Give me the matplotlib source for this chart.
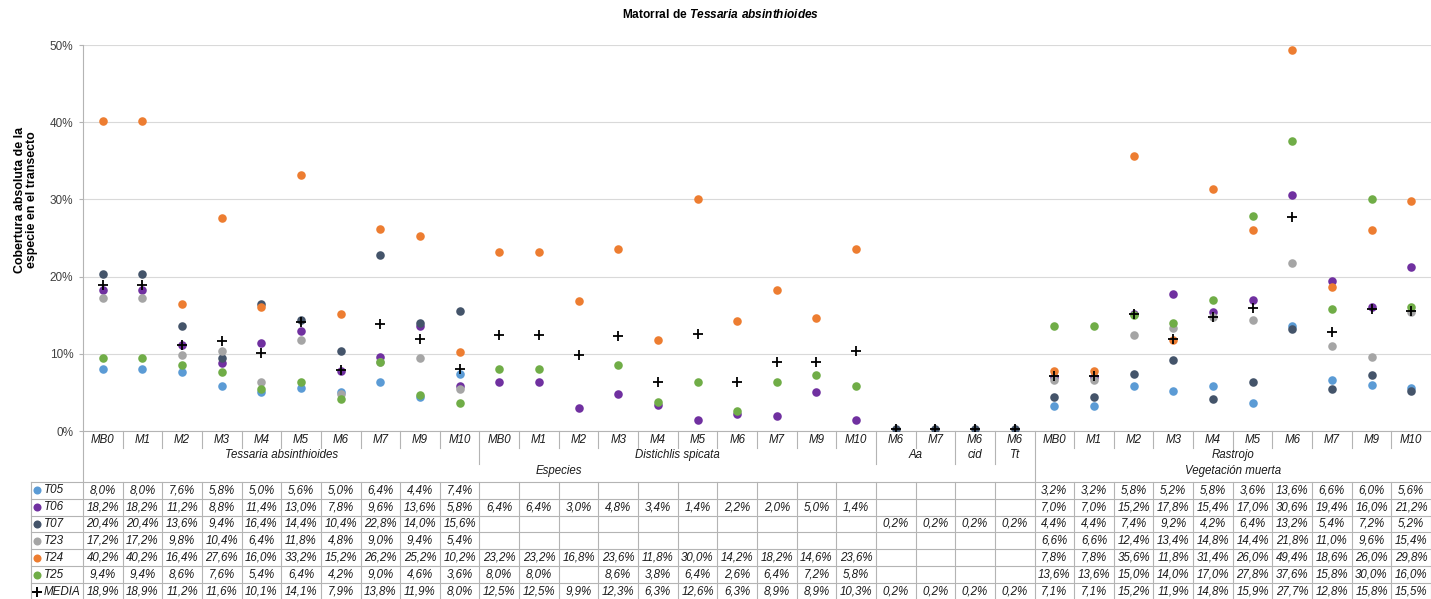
import matplotlib
matplotlib.use("Agg")
import matplotlib.pyplot as plt
from matplotlib.ticker import PercentFormatter
from matplotlib.transforms import blended_transform_factory

plt.rcParams["font.family"] = ["Liberation Sans", "DejaVu Sans"]
plt.rcParams["mathtext.fontset"] = "custom"
plt.rcParams["mathtext.rm"] = "Liberation Sans:bold"
plt.rcParams["mathtext.bf"] = "Liberation Sans:bold"
plt.rcParams["mathtext.it"] = "Liberation Sans:bold:italic"

# ---- datos (% de cobertura) ----
CATEGORIAS = ["MB0", "M1", "M2", "M3", "M4", "M5", "M6", "M7", "M9", "M10",
              "MB0", "M1", "M2", "M3", "M4", "M5", "M6", "M7", "M9", "M10",
              "M6", "M7", "M6", "M6",
              "MB0", "M1", "M2", "M3", "M4", "M5", "M6", "M7", "M9", "M10"]
GRUPOS = ["Tessaria absinthioides", "Distichlis spicata", "Aa", "cid", "Tt", "Rastrojo"]
N_GRUPO = [10, 10, 2, 1, 1, 10]
TIPOS = ["Especies", "Vegetación muerta"]
N_TIPO = [24, 10]

_ = None
T05 = [8.0, 8.0, 7.6, 5.8, 5.0, 5.6, 5.0, 6.4, 4.4, 7.4,
       _, _, _, _, _, _, _, _, _, _,
       _, _, _, _,
       3.2, 3.2, 5.8, 5.2, 5.8, 3.6, 13.6, 6.6, 6.0, 5.6]
T06 = [18.2, 18.2, 11.2, 8.8, 11.4, 13.0, 7.8, 9.6, 13.6, 5.8,
       6.4, 6.4, 3.0, 4.8, 3.4, 1.4, 2.2, 2.0, 5.0, 1.4,
       _, _, _, _,
       7.0, 7.0, 15.2, 17.8, 15.4, 17.0, 30.6, 19.4, 16.0, 21.2]
T07 = [20.4, 20.4, 13.6, 9.4, 16.4, 14.4, 10.4, 22.8, 14.0, 15.6,
       _, _, _, _, _, _, _, _, _, _,
       0.2, 0.2, 0.2, 0.2,
       4.4, 4.4, 7.4, 9.2, 4.2, 6.4, 13.2, 5.4, 7.2, 5.2]
T23 = [17.2, 17.2, 9.8, 10.4, 6.4, 11.8, 4.8, 9.0, 9.4, 5.4,
       _, _, _, _, _, _, _, _, _, _,
       _, _, _, _,
       6.6, 6.6, 12.4, 13.4, 14.8, 14.4, 21.8, 11.0, 9.6, 15.4]
T24 = [40.2, 40.2, 16.4, 27.6, 16.0, 33.2, 15.2, 26.2, 25.2, 10.2,
       23.2, 23.2, 16.8, 23.6, 11.8, 30.0, 14.2, 18.2, 14.6, 23.6,
       _, _, _, _,
       7.8, 7.8, 35.6, 11.8, 31.4, 26.0, 49.4, 18.6, 26.0, 29.8]
T25 = [9.4, 9.4, 8.6, 7.6, 5.4, 6.4, 4.2, 9.0, 4.6, 3.6,
       8.0, 8.0, _, 8.6, 3.8, 6.4, 2.6, 6.4, 7.2, 5.8,
       _, _, _, _,
       13.6, 13.6, 15.0, 14.0, 17.0, 27.8, 37.6, 15.8, 30.0, 16.0]
MEDIA = [18.9, 18.9, 11.2, 11.6, 10.1, 14.1, 7.9, 13.8, 11.9, 8.0,
         12.5, 12.5, 9.9, 12.3, 6.3, 12.6, 6.3, 8.9, 8.9, 10.3,
         0.2, 0.2, 0.2, 0.2,
         7.1, 7.1, 15.2, 11.9, 14.8, 15.9, 27.7, 12.8, 15.8, 15.5]

SERIES = {"T05": T05, "T06": T06, "T07": T07, "T23": T23,
          "T24": T24, "T25": T25, "MEDIA": MEDIA}
COLORES = {"T05": "#5B9BD5", "T06": "#7030A0", "T07": "#44546A", "T23": "#A5A5A5",
           "T24": "#ED7D31", "T25": "#70AD47", "MEDIA": "black"}

W, H = 1431, 599
LINEA = "#B4B4B4"
TEXTO = "#1A1A1A"


def fy(py):
    return 1 - py / H


fig = plt.figure(figsize=(W / 100, H / 100), dpi=100)
ax = fig.add_axes([83 / W, fy(431), (1431 - 83) / W, (431 - 45) / H])

for nombre, vals in SERIES.items():
    xs = [i for i, v in enumerate(vals) if v is not None]
    ys = [vals[i] / 100 for i in xs]
    if nombre == "MEDIA":
        ax.scatter(xs, ys, marker="+", s=60, c="black", linewidths=1.3, zorder=5)
    else:
        ax.scatter(xs, ys, s=38, c=COLORES[nombre], linewidths=0, zorder=4)

ax.set_xlim(-0.5, len(CATEGORIAS) - 0.5)
ax.set_ylim(0, 0.5)
ax.set_yticks([0, 0.1, 0.2, 0.3, 0.4, 0.5])
ax.yaxis.set_major_formatter(PercentFormatter(1.0, decimals=0))
ax.tick_params(axis="y", labelsize=8.5, labelcolor="#404040", length=3,
               color=LINEA, pad=4)
ax.set_xticks([])
ax.grid(axis="y", color="#D9D9D9", linewidth=0.8)
ax.set_axisbelow(True)
for s in ("top", "right"):
    ax.spines[s].set_visible(False)
ax.spines["left"].set_color(LINEA)
ax.spines["bottom"].set_color(LINEA)

fig.text(721 / W, fy(14), r"Matorral de $\it{Tessaria\ absinthioides}$",
         ha="center", va="center", fontsize=8.6, fontweight="bold")
fig.text(26 / W, fy(200), "Cobertura absoluta de la\nespecie en el transecto",
         ha="center", va="center", rotation=90, fontsize=8.9, fontweight="bold",
         linespacing=1.05)

trans = blended_transform_factory(ax.transData, fig.transFigure)

# etiquetas de categoría, grupo y tipo
for i, cat in enumerate(CATEGORIAS):
    ax.text(i, fy(440), cat, transform=trans, ha="center", va="center",
            style="italic", fontsize=8.3, color=TEXTO)

limites_grupo = [sum(N_GRUPO[:k]) for k in range(len(N_GRUPO) + 1)]
limites_tipo = [sum(N_TIPO[:k]) for k in range(len(N_TIPO) + 1)]
for k, g in enumerate(GRUPOS):
    c = (limites_grupo[k] + limites_grupo[k + 1] - 1) / 2
    ax.text(c, fy(455), g, transform=trans, ha="center", va="center",
            style="italic", fontsize=8.3, color=TEXTO)
for k, t in enumerate(TIPOS):
    c = (limites_tipo[k] + limites_tipo[k + 1] - 1) / 2
    ax.text(c, fy(471), t, transform=trans, ha="center", va="center",
            style="italic", fontsize=8.3, color=TEXTO)

for k in range(len(CATEGORIAS)):
    if k in limites_tipo:
        y1 = 481
    elif k in limites_grupo:
        y1 = 464
    else:
        y1 = 448
    ax.plot([k - 0.5, k - 0.5], [fy(431), fy(y1)], transform=trans,
            color=LINEA, lw=0.8, clip_on=False)

# tabla de datos
fila0, alto = 481.7, 16.9
n_filas = len(SERIES)
for r in range(n_filas + 1):
    yy = fy(fila0 + r * alto)
    fig.add_artist(plt.Line2D([31 / W, 1], [yy, yy], color=LINEA, lw=0.8))
for k in range(len(CATEGORIAS) + 1):
    ax.plot([k - 0.5, k - 0.5], [fy(fila0), 0], transform=trans,
            color=LINEA, lw=0.8, clip_on=False)
fig.add_artist(plt.Line2D([31 / W, 31 / W], [fy(fila0), 0], color=LINEA, lw=0.8))

for r, (nombre, vals) in enumerate(SERIES.items()):
    yc = fy(fila0 + (r + 0.5) * alto)
    if nombre == "MEDIA":
        fig.add_artist(plt.Line2D([37 / W], [yc], marker="+", ms=7, mew=1.4,
                                  color="black", linestyle="none"))
    else:
        fig.add_artist(plt.Line2D([37 / W], [yc], marker="o", ms=5.8, mew=0,
                                  color=COLORES[nombre], linestyle="none"))
    fig.text(44 / W, yc, nombre, ha="left", va="center", style="italic",
             fontsize=8.4, color=TEXTO)
    for i, v in enumerate(vals):
        if v is None:
            continue
        ax.text(i, yc, f"{v:.1f}%".replace(".", ","), transform=trans,
                ha="center", va="center", style="italic", fontsize=8.3,
                color=TEXTO)

fig.savefig("out.png", dpi=100)
